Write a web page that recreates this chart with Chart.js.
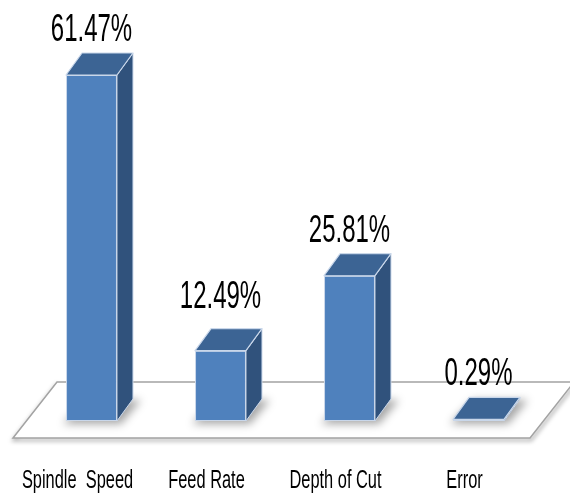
<!DOCTYPE html>
<html>
<head>
<meta charset="utf-8">
<script src="https://cdn.jsdelivr.net/npm/chart.js@4/dist/chart.umd.min.js"></script>
<style>
html,body{margin:0;padding:0;background:#fff;}
canvas{display:block;}
</style>
</head>
<body>
<canvas id="c" width="570" height="496"></canvas>
<script>
const categories = ['Spindle  Speed', 'Feed Rate', 'Depth of Cut', 'Error'];
const shares = [61.47, 12.49, 25.81, 0.29];
const valueLabels = shares.map(v => v.toFixed(2) + '%');

const FRONT = '#4f81bd';
const TOP = '#3c6494';
const SIDE = '#30527c';
const EDGE = '#c9d7ea';
const FONT = '"Liberation Sans", Arial, sans-serif';

const bar3d = {
  id: 'bar3d',
  beforeDatasetsDraw(chart, args, opts) {
    const ctx = chart.ctx, a = chart.chartArea;
    const fy = a.bottom + 17, by = a.bottom - 39;
    const flx = a.left - 14, frx = a.right - 13, fdx = 44;
    ctx.save();
    ctx.filter = 'blur(2px)';
    ctx.strokeStyle = 'rgba(0,0,0,0.3)';
    ctx.lineWidth = 3;
    ctx.beginPath();
    ctx.moveTo(flx + fdx + 1, by + 2);
    ctx.lineTo(flx + 1, fy + 2);
    ctx.lineTo(frx + 1, fy + 2);
    ctx.lineTo(frx + fdx + 1, by + 2);
    ctx.stroke();
    ctx.filter = 'none';
    ctx.fillStyle = '#ffffff';
    ctx.strokeStyle = '#a3a3a3';
    ctx.lineWidth = 1.5;
    ctx.beginPath();
    ctx.moveTo(flx + fdx, by);
    ctx.lineTo(frx + fdx, by);
    ctx.lineTo(frx, fy);
    ctx.lineTo(flx, fy);
    ctx.closePath();
    ctx.fill();
    ctx.stroke();
    const meta = chart.getDatasetMeta(0);
    ctx.filter = 'blur(4px)';
    ctx.fillStyle = 'rgba(0,0,0,0.35)';
    meta.data.forEach(el => {
      const x0 = el.x - el.width / 2, x1 = el.x + el.width / 2, b = el.base;
      ctx.beginPath();
      ctx.moveTo(x0 - 3, b + 3);
      ctx.lineTo(x1 + 4, b + 3);
      ctx.lineTo(x1 + opts.dx + 8, b + opts.dy + 1);
      ctx.lineTo(x0 + opts.dx + 4, b + opts.dy + 1);
      ctx.closePath();
      ctx.fill();
    });
    ctx.filter = 'none';
    ctx.restore();
  },
  afterDatasetsDraw(chart, args, opts) {
    const ctx = chart.ctx;
    const meta = chart.getDatasetMeta(0);
    const dx = opts.dx, dy = opts.dy;
    ctx.save();
    ctx.lineJoin = 'round';
    meta.data.forEach((el, i) => {
      const x0 = el.x - el.width / 2, x1 = el.x + el.width / 2;
      const t = el.y, b = el.base;
      ctx.beginPath();
      ctx.moveTo(x1, t);
      ctx.lineTo(x1 + dx, t + dy);
      ctx.lineTo(x1 + dx, b + dy);
      ctx.lineTo(x1, b);
      ctx.closePath();
      ctx.fillStyle = SIDE;
      ctx.fill();
      ctx.strokeStyle = EDGE;
      ctx.lineWidth = 1;
      ctx.stroke();
      ctx.beginPath();
      ctx.moveTo(x0, t);
      ctx.lineTo(x1, t);
      ctx.lineTo(x1 + dx, t + dy);
      ctx.lineTo(x0 + dx, t + dy);
      ctx.closePath();
      ctx.fillStyle = TOP;
      ctx.fill();
      ctx.strokeStyle = EDGE;
      ctx.lineWidth = 1.2;
      ctx.stroke();
      ctx.fillStyle = '#000000';
      ctx.font = '30px ' + FONT;
      ctx.textAlign = 'center';
      ctx.textBaseline = 'alphabetic';
      ctx.save();
      ctx.translate(el.x, t - opts.lift[i]);
      ctx.scale(0.8, 1.3);
      ctx.fillText(valueLabels[i], 0, 0);
      ctx.restore();
    });
    const xs = chart.scales.x;
    ctx.fillStyle = '#000000';
    ctx.font = '20px ' + FONT;
    ctx.textAlign = 'center';
    categories.forEach((c, i) => {
      const x = xs.getPixelForValue(i) + opts.labelShift;
      ctx.save();
      ctx.translate(x, opts.labelY);
      ctx.scale(0.82, 1.33);
      ctx.fillText(c, 0, 0);
      ctx.restore();
    });
    ctx.restore();
  }
};

new Chart(document.getElementById('c'), {
  type: 'bar',
  data: {
    labels: categories,
    datasets: [{
      data: shares,
      backgroundColor: FRONT,
      borderColor: EDGE,
      borderWidth: 1,
      borderSkipped: false,
      barPercentage: 1,
      categoryPercentage: 0.395
    }]
  },
  options: {
    responsive: false,
    animation: false,
    devicePixelRatio: 1,
    layout: { padding: { left: 27, right: 27, top: 27, bottom: 75 } },
    scales: {
      x: { display: false },
      y: { display: false, min: 0, max: 70 }
    },
    plugins: {
      legend: { display: false },
      tooltip: { enabled: false },
      bar3d: { dx: 16, dy: -22, lift: [34, 43, 34, 34], labelShift: -14, labelY: 488 }
    }
  },
  plugins: [bar3d]
});
</script>
</body>
</html>
